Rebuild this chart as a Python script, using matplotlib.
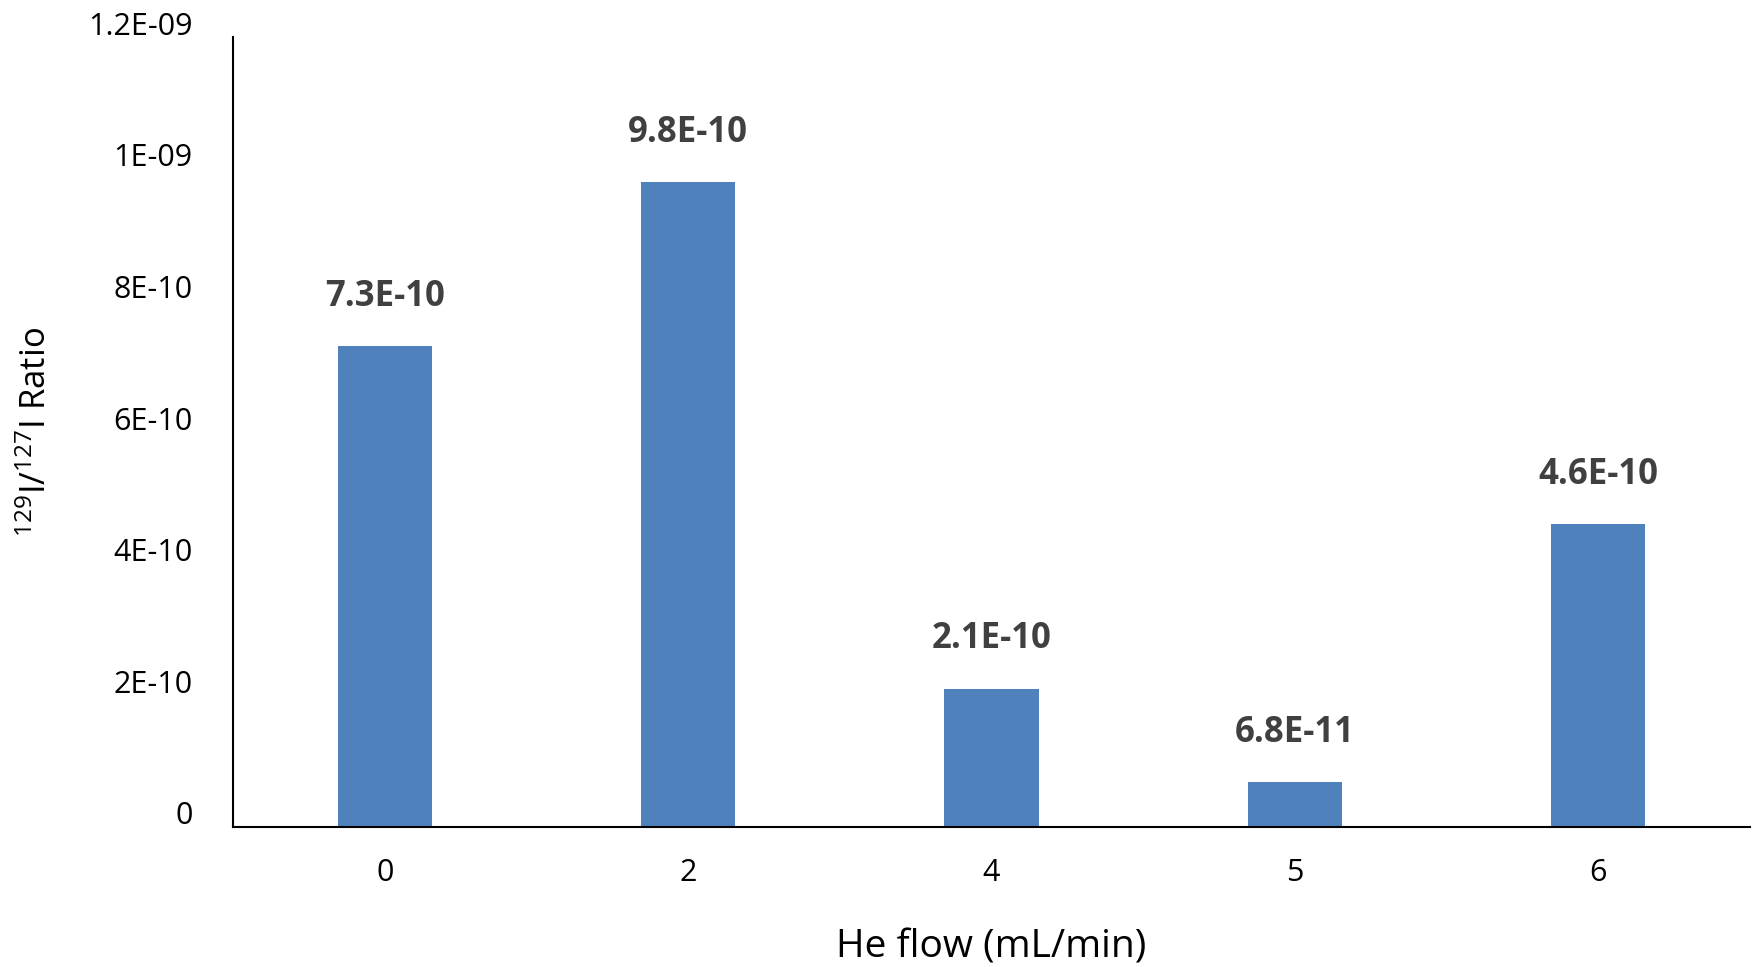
import matplotlib.pyplot as plt
import matplotlib.transforms as mtransforms

plt.rcParams['font.family'] = ['Open Sans', 'DejaVu Sans']
plt.rcParams['mathtext.fontset'] = 'custom'
plt.rcParams['mathtext.rm'] = 'Open Sans'
plt.rcParams['mathtext.it'] = 'Open Sans'

# He flow settings and measured isotope ratios
flows = ['0', '2', '4', '5', '6']
ratios = [7.3e-10, 9.8e-10, 2.1e-10, 6.8e-11, 4.6e-10]
bar_labels = ['7.3E-10', '9.8E-10', '2.1E-10', '6.8E-11', '4.6E-10']
yticks = [0, 2e-10, 4e-10, 6e-10, 8e-10, 1e-9, 1.2e-9]
ytick_labels = ['0', '2E-10', '4E-10', '6E-10', '8E-10', '1E-09', '1.2E-09']

fig = plt.figure(figsize=(17.56, 9.67), dpi=100)
ax = fig.add_axes([0.1327, 0.1448, 0.8639, 0.8169])

x = range(len(flows))
ax.bar(x, ratios, width=0.31, color='#4F81BD')

for xi, v, lab in zip(x, ratios, bar_labels):
    ax.annotate(lab, (xi, v), xytext=(0, 29), textcoords='offset points',
                ha='center', va='baseline', fontsize=25, fontweight='bold',
                color='#404040')

ax.set_xlim(-0.5, len(flows) - 0.5)
ax.set_ylim(0, 1.2e-9)
ax.set_xticks(list(x))
ax.set_xticklabels(flows)
ax.set_yticks(yticks)
ax.set_yticklabels(ytick_labels)
ax.tick_params(axis='both', length=0, labelsize=22, colors='black')
ax.tick_params(axis='x', pad=22)
ax.tick_params(axis='y', pad=29)

# y labels sit a little above their gridline values
shift = mtransforms.ScaledTranslation(0, 14 / 100, fig.dpi_scale_trans)
for lbl in ax.get_yticklabels():
    lbl.set_transform(lbl.get_transform() + shift)

for s in ['top', 'right']:
    ax.spines[s].set_visible(False)
for s in ['left', 'bottom']:
    ax.spines[s].set_linewidth(1.5)
    ax.spines[s].set_color('black')

ax.set_xlabel('He flow (mL/min)', fontsize=28, va='center')
ax.xaxis.set_label_coords(0.5, -0.152)
ax.set_ylabel('$^{129}$I/$^{127}$I Ratio', fontsize=25)
ax.yaxis.set_label_coords(-0.118, 0.5)

fig.savefig('out.png', dpi=100)
